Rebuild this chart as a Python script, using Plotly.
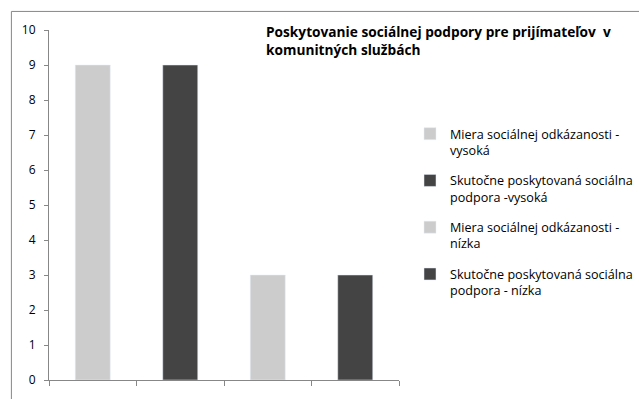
import plotly.graph_objects as go

categories = ["A", "B", "C", "D"]
series_names = [
    "Miera sociálnej odkázanosti -<br>vysoká",
    "Skutočne poskytovaná sociálna<br>podpora -vysoká",
    "Miera sociálnej odkázanosti -<br>nízka",
    "Skutočne poskytovaná sociálna<br>podpora - nízka",
]
values = [9, 9, 3, 3]
colors = ["#CCCCCC", "#444444", "#CCCCCC", "#444444"]
title_text = "Poskytovanie sociálnej podpory pre prijímateľov  v<br>komunitných službách"

FONT = "Open Sans"
AXIS = "#878787"

fig = go.Figure()
for i, (name, cat, val, col) in enumerate(zip(series_names, categories, values, colors)):
    fig.add_trace(go.Bar(
        x=[cat], y=[val], name=name, marker_color=col, width=0.4,
        legendgroup=f"g{i}",
    ))

fig.update_layout(
    width=639, height=399,
    margin=dict(l=49, r=227, t=30, b=11),
    paper_bgcolor="white", plot_bgcolor="white",
    barmode="overlay",
    font=dict(family=FONT, size=12, color="#000000"),
    title=dict(
        text=title_text, x=266 / 639, xanchor="left", xref="container",
        y=1 - 37 / 399, yanchor="top", yref="container",
        font=dict(family=FONT, size=13.7, color="#000000", weight="bold"),
    ),
    legend=dict(
        x=410 / 639, xanchor="left", xref="container",
        y=1 - 119 / 399, yanchor="top", yref="container",
        valign="top", tracegroupgap=11, traceorder="grouped",
        font=dict(family=FONT, size=12.6, color="#000000"),
        bgcolor="rgba(0,0,0,0)",
    ),
    showlegend=True,
)
fig.update_xaxes(
    type="category", categoryorder="array", categoryarray=categories,
    range=[-0.5, 3.5],
    showline=True, linecolor=AXIS, linewidth=1,
    ticks="outside", ticklen=5, tickcolor=AXIS, tickson="boundaries",
    showticklabels=False, showgrid=False, zeroline=False, fixedrange=True,
)
fig.update_yaxes(
    range=[0, 10], dtick=1, tick0=0,
    showline=True, linecolor=AXIS, linewidth=1,
    ticks="outside", ticklen=4, tickcolor=AXIS,
    showgrid=False, zeroline=False,
    tickfont=dict(family=FONT, size=12, color="#000000"),
    ticklabelstandoff=6,
)
# outer chart border (extends beyond the visible window at right/bottom)
fig.add_shape(
    type="rect", xref="paper", yref="paper",
    x0=(10 - 49) / 363, x1=2.0, y0=-0.5, y1=1 + 19 / 358,
    line=dict(color=AXIS, width=1), fillcolor="rgba(0,0,0,0)", layer="below",
)

fig.write_html("out.html")
